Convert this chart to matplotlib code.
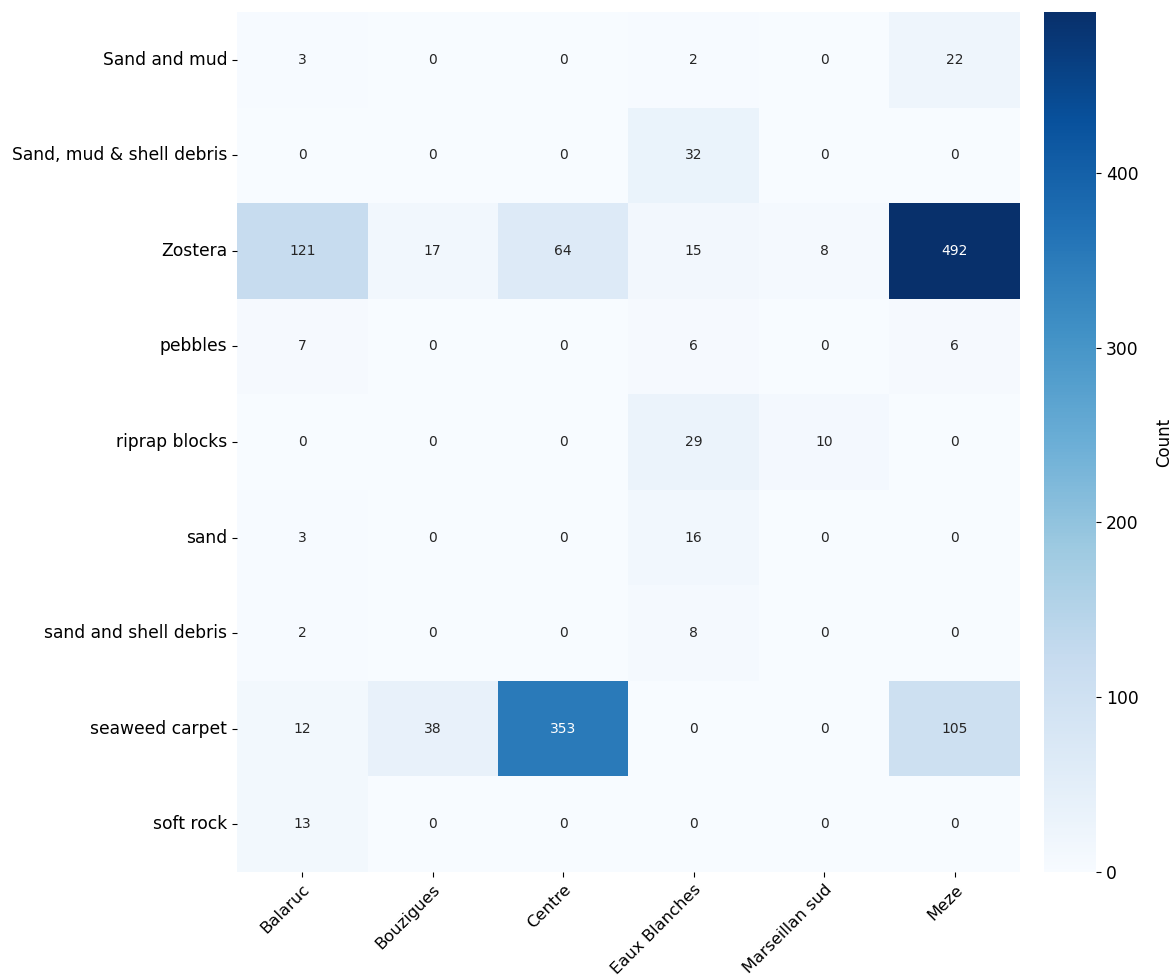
import numpy as np
import matplotlib
matplotlib.use("Agg")
import matplotlib.pyplot as plt
import seaborn as sns

rows = ["Sand and mud", "Sand, mud & shell debris", "Zostera", "pebbles",
        "riprap blocks", "sand", "sand and shell debris", "seaweed carpet", "soft rock"]
cols = ["Balaruc", "Bouzigues", "Centre", "Eaux Blanches", "Marseillan sud", "Meze"]

sand_and_mud = [3, 0, 0, 2, 0, 22]
sand_mud_shell = [0, 0, 0, 32, 0, 0]
zostera = [121, 17, 64, 15, 8, 492]
pebbles = [7, 0, 0, 6, 0, 6]
riprap = [0, 0, 0, 29, 10, 0]
sand = [3, 0, 0, 16, 0, 0]
sand_shell = [2, 0, 0, 8, 0, 0]
seaweed = [12, 38, 353, 0, 0, 105]
soft_rock = [13, 0, 0, 0, 0, 0]

data = np.array([sand_and_mud, sand_mud_shell, zostera, pebbles, riprap,
                 sand, sand_shell, seaweed, soft_rock])

fig = plt.figure(figsize=(11.75, 9.8), dpi=100)
ax = fig.add_axes([237/1175, 1-872/980, (1020-237)/1175, 860/980])
cax = fig.add_axes([1044/1175, 1-872/980, 52/1175, 860/980])

sns.heatmap(data, ax=ax, cbar_ax=cax, cmap="Blues", annot=True, fmt="d",
            annot_kws={"fontsize": 10},
            xticklabels=cols, yticklabels=rows, cbar_kws={"label": "Count"})

ax.set_xticklabels(cols, rotation=45, ha="right", rotation_mode="anchor", fontsize=11.8)
ax.set_yticklabels(rows, rotation=0, fontsize=12.3)
cax.tick_params(labelsize=12.3)
cax.set_ylabel("Count", fontsize=12, labelpad=12)

fig.savefig("out.png", dpi=100)
